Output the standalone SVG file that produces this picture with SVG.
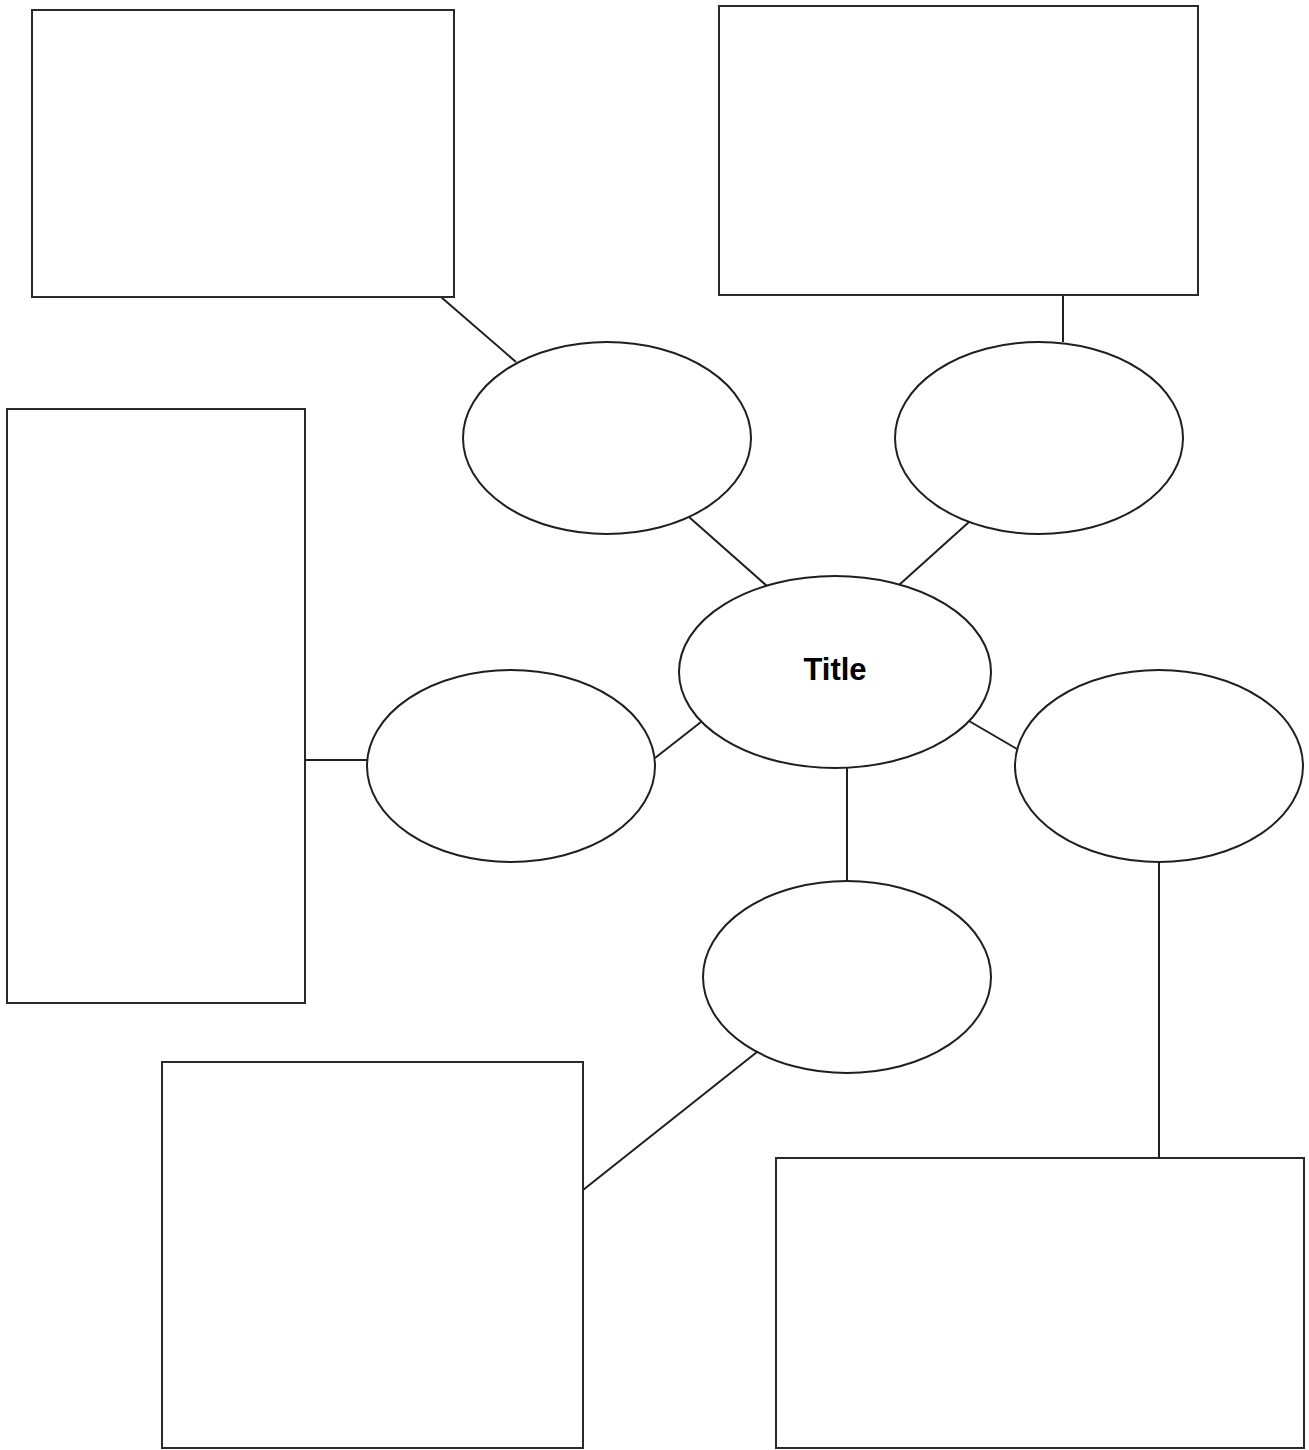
<svg xmlns="http://www.w3.org/2000/svg" width="1309" height="1450" viewBox="0 0 1309 1450">
<style>
.box{fill:#fff;stroke:#2a2a2a;stroke-width:2}
.ell{fill:#fff;stroke:#1f1f1f;stroke-width:2}
.con{stroke:#1f1f1f;stroke-width:2;fill:none}
.title{font-family:"Liberation Sans",Arial,sans-serif;font-weight:bold;font-size:31px;fill:#000}
</style>
<rect width="1309" height="1450" fill="#fff"/>
<g id="connectors">
<line class="con" x1="441" y1="297" x2="516" y2="362"/>
<line class="con" x1="1063" y1="295" x2="1063" y2="342"/>
<line class="con" x1="689" y1="517" x2="767" y2="586"/>
<line class="con" x1="969" y1="522" x2="899" y2="585"/>
<line class="con" x1="305" y1="760" x2="368" y2="760"/>
<line class="con" x1="655" y1="758" x2="701" y2="722"/>
<line class="con" x1="969" y1="721" x2="1017" y2="749"/>
<line class="con" x1="847" y1="768" x2="847" y2="881"/>
<line class="con" x1="1159" y1="862" x2="1159" y2="1158"/>
<line class="con" x1="757" y1="1052" x2="583" y2="1190"/>
</g>
<g id="box-top-left"><rect class="box" x="32" y="10" width="422" height="287"/></g>
<g id="box-top-right"><rect class="box" x="719" y="6" width="479" height="289"/></g>
<g id="box-left"><rect class="box" x="7" y="409" width="298" height="594"/></g>
<g id="box-bottom-left"><rect class="box" x="162" y="1062" width="421" height="386"/></g>
<g id="box-bottom-right"><rect class="box" x="776" y="1158" width="528" height="290"/></g>
<g id="ell-top-mid"><ellipse class="ell" cx="607" cy="438" rx="144" ry="96"/></g>
<g id="ell-top-right"><ellipse class="ell" cx="1039" cy="438" rx="144" ry="96"/></g>
<g id="ell-left"><ellipse class="ell" cx="511" cy="766" rx="144" ry="96"/></g>
<g id="ell-right"><ellipse class="ell" cx="1159" cy="766" rx="144" ry="96"/></g>
<g id="ell-bottom"><ellipse class="ell" cx="847" cy="977" rx="144" ry="96"/></g>
<g id="ell-title"><ellipse class="ell" cx="835" cy="672" rx="156" ry="96"/>
<text class="title" x="835" y="680" text-anchor="middle">Title</text></g>
</svg>
